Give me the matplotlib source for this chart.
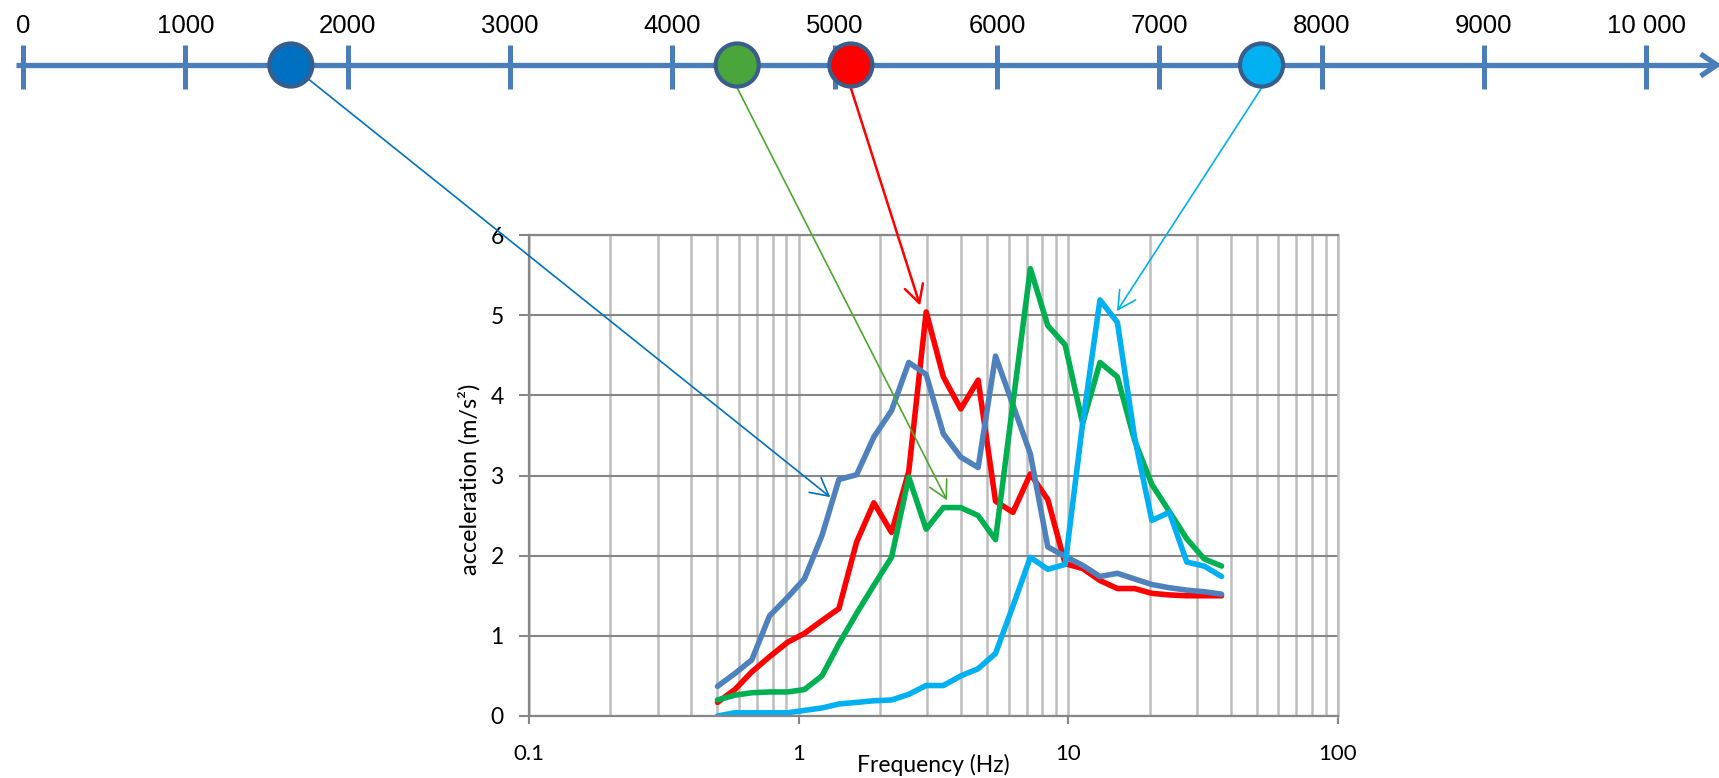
import matplotlib.pyplot as plt
from matplotlib import font_manager
from matplotlib.patches import ConnectionPatch, ArrowStyle
from matplotlib.ticker import FixedLocator, FixedFormatter, LogLocator, NullFormatter

plt.rcParams['font.family'] = ['Lato', 'DejaVu Sans']

W, H = 1719, 778

# frequency points of the measured spectra (Hz)
freq = [0.50, 0.58, 0.67, 0.78, 0.91, 1.05, 1.22, 1.41, 1.64, 1.90,
        2.21, 2.56, 2.97, 3.44, 3.99, 4.63, 5.37, 6.23, 7.23, 8.39,
        9.73, 11.3, 13.1, 15.2, 17.6, 20.4, 23.7, 27.5, 31.9, 37.0]

# acceleration (m/s²) for each setting on the top scale
acc_1650 = [0.37, 0.53, 0.70, 1.25, 1.48, 1.71, 2.25, 2.95, 3.01, 3.48,
            3.81, 4.41, 4.26, 3.52, 3.23, 3.10, 4.49, 3.88, 3.27, 2.11,
            1.99, 1.88, 1.74, 1.78, 1.71, 1.64, 1.60, 1.57, 1.55, 1.52]
acc_4400 = [0.20, 0.26, 0.29, 0.30, 0.30, 0.33, 0.50, 0.90, 1.28, 1.63,
            1.98, 2.98, 2.33, 2.60, 2.60, 2.50, 2.20, 3.90, 5.58, 4.87,
            4.63, 3.65, 4.41, 4.23, 3.44, 2.89, 2.55, 2.21, 1.96, 1.87]
acc_5100 = [0.17, 0.33, 0.55, 0.74, 0.92, 1.03, 1.19, 1.34, 2.17, 2.66,
            2.29, 3.05, 5.04, 4.23, 3.83, 4.19, 2.68, 2.54, 3.02, 2.70,
            1.90, 1.84, 1.69, 1.59, 1.59, 1.53, 1.51, 1.50, 1.50, 1.50]
acc_7630 = [0.00, 0.04, 0.04, 0.04, 0.04, 0.07, 0.10, 0.15, 0.17, 0.19,
            0.20, 0.27, 0.38, 0.38, 0.50, 0.59, 0.78, 1.37, 1.98, 1.83,
            1.89, 3.65, 5.19, 4.91, 3.48, 2.44, 2.54, 1.92, 1.87, 1.74]

scale_ticks = [0, 1000, 2000, 3000, 4000, 5000, 6000, 7000, 8000, 9000, 10000]
scale_labels = ['0', '1000', '2000', '3000', '4000', '5000', '6000',
                '7000', '8000', '9000', '10 000']

speeds = [1650, 4400, 5100, 7630]
dot_colors = ['#0070c0', '#4aa63a', '#ff0000', '#00b0f0']
arrow_colors = ['#0070c0', '#4ea72e', '#ff0000', '#00b0f0']
arrow_widths = [1.2, 1.2, 1.8, 1.2]
# where each arrow points on the spectrum chart (Hz, m/s²)
arrow_tips = [(1.31, 2.73), (3.55, 2.69), (2.82, 5.12), (15.15, 5.05)]
# arrows leave the dot from its centre (0) or from its lower edge (-23 px)
arrow_starts = [0, -23, -23, -23]

# narrow face for the scale numbers if there is one
installed = {f.name for f in font_manager.fontManager.ttflist}
if 'Liberation Sans Narrow' in installed:
    scale_font, scale_size = ['Liberation Sans Narrow', 'DejaVu Sans'], 20
else:
    scale_font, scale_size = ['Liberation Sans', 'DejaVu Sans'], 18.5

fig = plt.figure(figsize=(W / 100, H / 100), dpi=100)

# ---- top scale (y units are pixels, 0 is the scale line) ----
ax_top = fig.add_axes([0, 1 - 130 / H, 1, 130 / H])
ax_top.set_xlim(-141.7, 10448)
ax_top.set_ylim(-65, 65)
ax_top.axis('off')
ax_top.patch.set_alpha(0)
ax_top.set_zorder(3)

line_col = '#4a7ebb'
ax_top.plot([-43, 10432], [0, 0], color=line_col, lw=3.8, solid_capstyle='butt')
ax_top.plot([10335, 10435, 10335], [11, 0, -11], color=line_col, lw=3.8,
            solid_joinstyle='miter', solid_capstyle='butt')
ax_top.vlines(scale_ticks, -24, 20, color=line_col, lw=3.6)
for v, lab in zip(scale_ticks, scale_labels):
    ax_top.text(v, 32, lab, ha='center', va='baseline', fontsize=scale_size,
                family=scale_font)
ax_top.scatter(speeds, [0] * len(speeds), s=961, c=dot_colors,
               edgecolors='#3a5e8c', linewidths=3.0, zorder=5)

# ---- spectrum chart ----
ax = fig.add_axes([529 / W, 62 / H, 809 / W, 481 / H])
ax.set_zorder(1)
ax.set_xscale('log')
ax.set_xlim(0.1, 100)
ax.set_ylim(0, 6)
ax.set_yticks(range(7))
ax.xaxis.set_major_locator(FixedLocator([0.1, 1, 10, 100]))
ax.xaxis.set_major_formatter(FixedFormatter(['0.1', '1', '10', '100']))
ax.xaxis.set_minor_locator(LogLocator(base=10, subs=range(2, 10)))
ax.xaxis.set_minor_formatter(NullFormatter())

dark = '#878787'
light = '#bdbdbd'
ax.set_axisbelow(True)
ax.grid(axis='x', which='both', color=light, lw=1.8)
ax.grid(axis='y', which='major', color=dark, lw=1.5)
ax.spines['left'].set_color(dark)
ax.spines['bottom'].set_color(dark)
ax.spines['top'].set_color(dark)
ax.spines['right'].set_color(light)
for s in ax.spines.values():
    s.set_linewidth(1.6)
ax.spines['right'].set_linewidth(1.8)

ax.tick_params(axis='x', which='major', direction='out', length=5.8, width=1.5,
               color=dark, labelsize=16, pad=14)
ax.tick_params(axis='x', which='minor', length=0)
ax.tick_params(axis='y', direction='out', length=7.2, width=1.5,
               color=dark, labelsize=16.5, pad=11)

series = [(acc_5100, '#ff0000'), (acc_1650, '#4f81bd'),
          (acc_4400, '#00b050'), (acc_7630, '#00b0f0')]
for vals, col in series:
    ax.plot(freq, vals, color=col, lw=4.0, solid_joinstyle='round',
            solid_capstyle='round')

fig.text(933.5 / W, 1 - 771.7 / H, 'Frequency (Hz)', ha='center', va='baseline',
         fontsize=16.5)
fig.text(469 / W, 1 - 479 / H, 'acceleration (m/s²)', rotation=90,
         ha='center', va='center', fontsize=16.8)

# arrows from the dots on the scale down to the spectra
for v, y0, tip, col, lw in zip(speeds, arrow_starts, arrow_tips,
                               arrow_colors, arrow_widths):
    con = ConnectionPatch(xyA=(v, y0), coordsA=ax_top.transData,
                          xyB=tip, coordsB=ax.transData,
                          arrowstyle=ArrowStyle('->', head_length=1.27, head_width=0.68),
                          mutation_scale=10, color=col, lw=lw, zorder=2)
    fig.add_artist(con)

fig.savefig('out.png', dpi=100)
